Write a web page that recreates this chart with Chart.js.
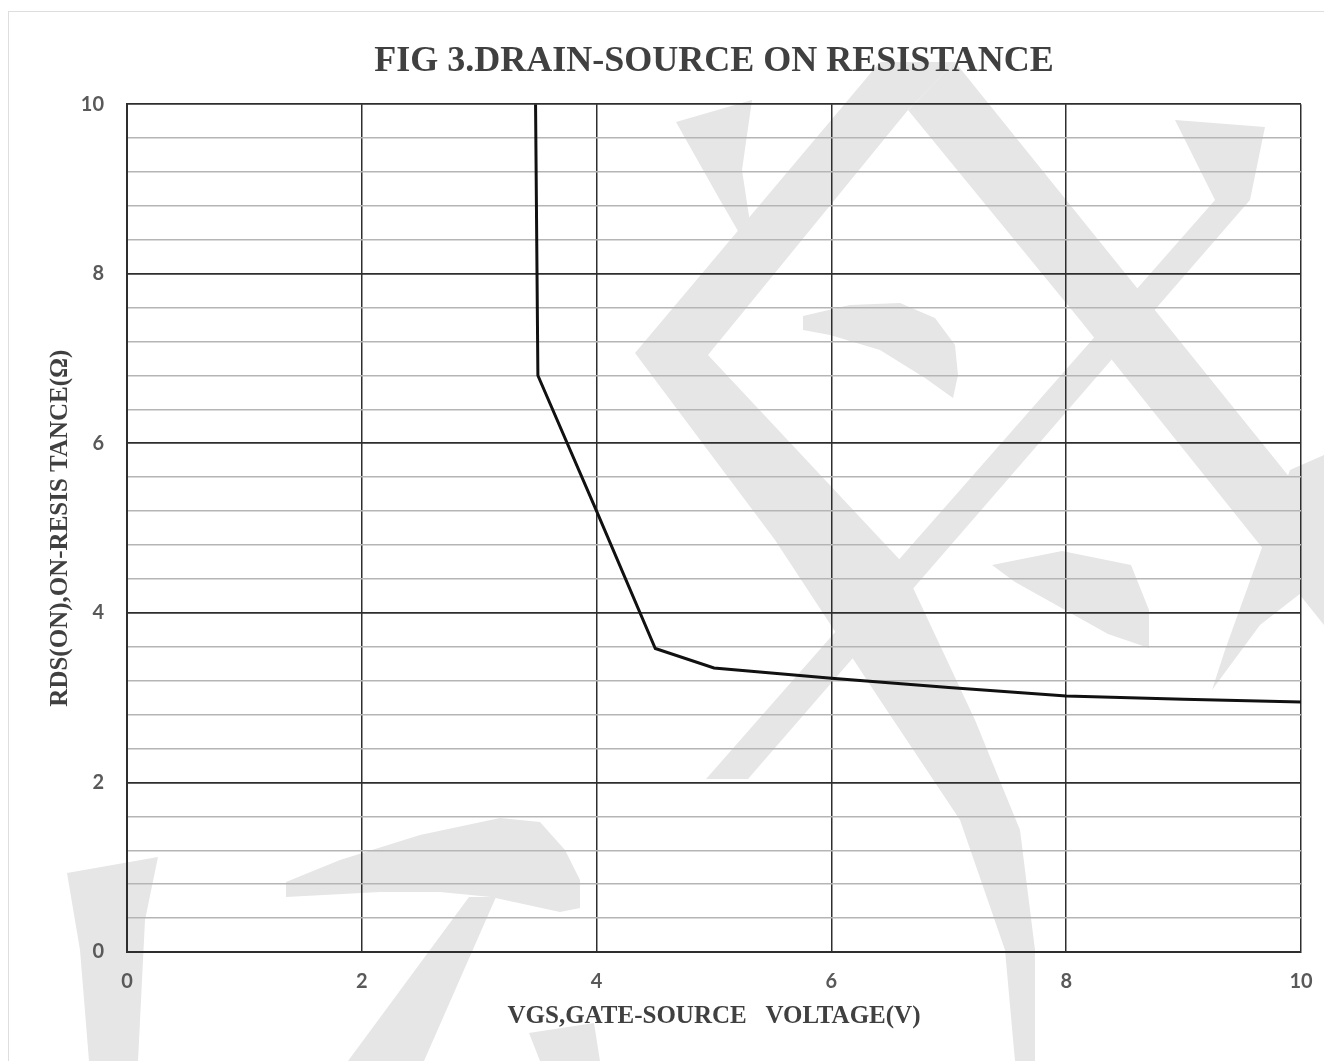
<!DOCTYPE html>
<html>
<head>
<meta charset="utf-8">
<title>FIG 3.DRAIN-SOURCE ON RESISTANCE</title>
<script src="https://cdn.jsdelivr.net/npm/chart.js@4.4.1/dist/chart.umd.min.js"></script>
<style>
  html, body { margin: 0; padding: 0; background: #fff; overflow: hidden; }
  #wrap { position: relative; width: 1324px; height: 1061px; }
  #frame { position: absolute; left: 8px; top: 11px; width: 1340px; height: 1080px; border: 1px solid #dedede; }
  canvas { position: absolute; left: 0; top: 0; }
</style>
</head>
<body>
<div id="wrap">
  <div id="frame"></div>
  <canvas id="myChart" width="1324" height="1061"></canvas>
</div>
<script>
'use strict';

// data
let vgs = [3.48, 3.5, 4.0, 4.5, 5.0, 6.0, 7.0, 8.0, 9.0, 10.0];
let rds = [10, 6.8, 5.2, 3.58, 3.35, 3.23, 3.12, 3.02, 2.98, 2.95];

let xTicks = [0, 2, 4, 6, 8, 10];
let yMajorStep = 2;
let yMinorStep = 0.4;

let titleText = 'FIG 3.DRAIN-SOURCE ON RESISTANCE';
let xTitle = 'VGS,GATE-SOURCE   VOLTAGE(V)';
let yTitle = 'RDS(ON),ON-RESIS TANCE(Ω)';

// light gray watermark behind the grid (decoration only)
let watermarkShapes = [
  [[676, 122], [752, 100], [742, 170], [756, 262], [720, 200]],
  [[880, 62], [955, 62], [908, 110], [708, 355], [900, 560], [975, 720], [1020, 830], [1035, 950], [1035, 1061], [1015, 1061], [1005, 950], [960, 820], [880, 700], [775, 540], [635, 353]],
  [[955, 62], [1324, 520], [1324, 625], [1256, 540], [1080, 320], [908, 110]],
  [[1175, 120], [1265, 127], [1250, 200], [748, 779], [706, 779], [1215, 200]],
  [[803, 316], [850, 305], [900, 303], [935, 318], [955, 345], [958, 375], [953, 398], [925, 378], [880, 350], [830, 335], [803, 330]],
  [[992, 565], [1062, 551], [1131, 565], [1149, 610], [1149, 648], [1108, 634], [1015, 582]],
  [[1290, 470], [1324, 455], [1324, 575], [1260, 625], [1212, 690], [1225, 650]],
  [[67, 873], [158, 857], [145, 920], [138, 1061], [89, 1061], [80, 950]],
  [[286, 882], [340, 860], [420, 835], [500, 818], [540, 822], [565, 850], [580, 880], [580, 908], [560, 912], [491, 897], [440, 892], [380, 892], [286, 897]],
  [[469, 897], [496, 897], [424, 1061], [348, 1061]],
  [[529, 1033], [594, 1023], [600, 1061], [540, 1061]]
];

function isMajor(v){
  return Math.abs(v / yMajorStep - Math.round(v / yMajorStep)) < 1e-6;
}

let points = [];
for(let i = 0; i < vgs.length; i++){
  points.push({x: vgs[i], y: rds[i]});
}

const watermark = {
  id: 'watermark',
  beforeDraw(chart){
    const ctx = chart.ctx;
    ctx.save();
    ctx.fillStyle = '#e6e6e6';
    watermarkShapes.forEach(function(pts){
      ctx.beginPath();
      pts.forEach(function(p, i){
        if(i === 0){
          ctx.moveTo(p[0], p[1]);
        } else {
          ctx.lineTo(p[0], p[1]);
        }
      });
      ctx.closePath();
      ctx.fill();
    });
    ctx.restore();
  }
};

const tickFont = {family: 'Lato, "Open Sans", sans-serif', size: 20, weight: 'bold'};
const titleFont = {family: '"Liberation Serif", "DejaVu Serif", serif', size: 25, weight: 'bold'};

const ctx = document.getElementById('myChart');

new Chart(ctx, {
  type: 'line',
  data: {
    datasets: [{
      label: 'RDS(ON)',
      data: points,
      borderColor: '#111111',
      borderWidth: 3,
      pointRadius: 0,
      tension: 0,
      fill: false
    }]
  },
  options: {
    responsive: false,
    animation: false,
    layout: {
      padding: {left: 42, right: 23, top: 20, bottom: 25}
    },
    plugins: {
      legend: {display: false},
      tooltip: {enabled: false},
      title: {
        display: true,
        text: titleText,
        fullSize: false,
        color: '#404040',
        font: {family: '"Liberation Serif", "DejaVu Serif", serif', size: 36, weight: 'bold'},
        padding: {top: 20, bottom: 21}
      }
    },
    scales: {
      x: {
        type: 'linear',
        min: 0,
        max: 10,
        afterBuildTicks: function(scale){
          scale.ticks = xTicks.map(function(v){ return {value: v}; });
        },
        afterFit: function(scale){
          scale.height = 84;
          scale.paddingRight = 0;
        },
        ticks: {
          color: '#595959',
          font: tickFont,
          padding: 18,
          maxRotation: 0
        },
        grid: {
          color: '#2e2e2e',
          lineWidth: 1.5,
          drawTicks: false
        },
        border: {
          color: '#2e2e2e',
          width: 2
        },
        title: {
          display: true,
          text: xTitle,
          color: '#404040',
          font: titleFont,
          padding: {top: 4, bottom: 4}
        }
      },
      y: {
        type: 'linear',
        min: 0,
        max: 10,
        ticks: {
          stepSize: yMinorStep,
          color: '#595959',
          font: tickFont,
          padding: 23,
          autoSkip: false,
          callback: function(value){
            return isMajor(value) ? String(Math.round(value)) : '';
          }
        },
        afterFit: function(scale){
          scale.width = 85;
        },
        grid: {
          drawTicks: false,
          color: function(c){
            return isMajor(c.tick.value) ? '#2e2e2e' : '#b5b5b5';
          },
          lineWidth: function(c){
            return isMajor(c.tick.value) ? 1.8 : 1.5;
          }
        },
        border: {
          color: '#2e2e2e',
          width: 2
        },
        title: {
          display: true,
          text: yTitle,
          color: '#404040',
          font: titleFont,
          padding: {top: 4, bottom: 4}
        }
      }
    }
  },
  plugins: [watermark]
});
</script>
</body>
</html>
